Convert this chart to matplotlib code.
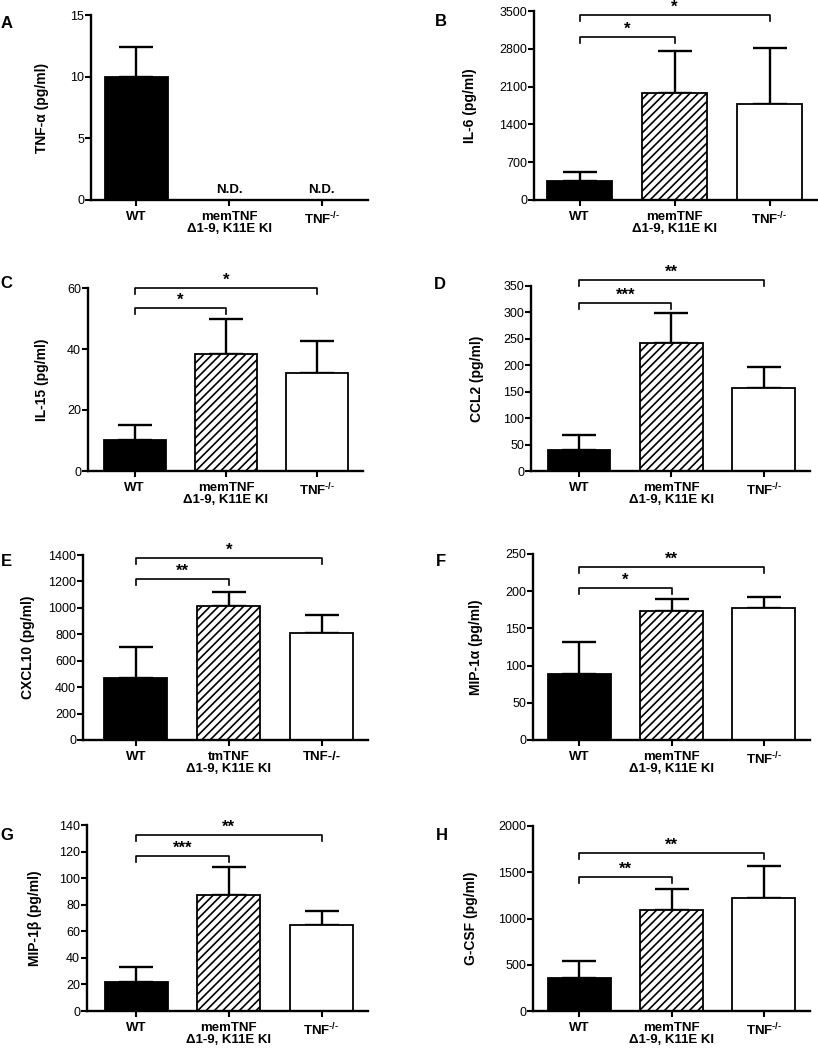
import numpy as np
import matplotlib
matplotlib.use('Agg')
import matplotlib.pyplot as plt

# ---------------- data ----------------
groups = ['WT', 'memTNF\nΔ1-9, K11E KI', 'TNF$^{\\mathbf{‐/‐}}$']
groups_e = ['WT', 'tmTNF\nΔ1-9, K11E KI', 'TNF-/-']

tnfa_mean = [10.0, 0.0, 0.0]
tnfa_sem = [2.4, 0.0, 0.0]
tnfa_nd = [False, True, True]

il6_mean = [357, 1990, 1775]
il6_sem = [167, 770, 1035]
il6_sig = ['*', '*']

il15_mean = [10.1, 38.4, 32.0]
il15_sem = [5.1, 11.6, 10.7]
il15_sig = ['*', '*']

ccl2_mean = [40.4, 243, 157]
ccl2_sem = [28.5, 55, 39]
ccl2_sig = ['***', '**']

cxcl10_mean = [472, 1017, 810]
cxcl10_sem = [229, 101, 134]
cxcl10_sig = ['**', '*']

mip1a_mean = [88.9, 174, 178]
mip1a_sem = [43, 15, 14]
mip1a_sig = ['*', '**']

mip1b_mean = [21.9, 87.2, 64.8]
mip1b_sem = [11.5, 21.1, 10.3]
mip1b_sig = ['***', '**']

gcsf_mean = [361, 1090, 1224]
gcsf_sem = [184, 231, 343]
gcsf_sig = ['**', '**']

# ---------------- style ----------------
plt.rcParams['font.family'] = ['Liberation Sans', 'DejaVu Sans']
plt.rcParams['mathtext.fontset'] = 'custom'
plt.rcParams['mathtext.rm'] = 'Liberation Sans'
plt.rcParams['mathtext.bf'] = 'Liberation Sans:bold'
plt.rcParams['hatch.linewidth'] = 1.2

W, H = 818, 1050
FILLS = ['black', 'white', 'white']
HATCHES = ['', '////', '']


def rect(l, r, t, b):
    return [l / W, 1 - b / H, (r - l) / W, (b - t) / H]


# panel: letter, ylabel, mean, sem, sig, ymax, ystep, axes px box, xlim-left,
#        ylabel x (axes frac), bracket levels (short, long), x labels, letter pos (px)
panels = [
    ('A', 'TNF-α (pg/ml)', tnfa_mean, tnfa_sem, None, 15, 5, (91, 368, 15, 200), -0.49, -0.15, None, groups, (7, 23)),
    ('B', 'IL-6 (pg/ml)', il6_mean, il6_sem, il6_sig, 3500, 700, (534, 817, 11, 200), -0.48, -0.20, (3019, 3420), groups, (441, 21)),
    ('C', 'IL-15 (pg/ml)', il15_mean, il15_sem, il15_sig, 60, 20, (88, 363, 288, 471), -0.51, -0.14, (53.4, 60.0), groups, (6, 283)),
    ('D', 'CCL2 (pg/ml)', ccl2_mean, ccl2_sem, ccl2_sig, 350, 50, (531, 810, 286, 471), -0.52, -0.17, (318, 361), groups, (440, 284)),
    ('E', 'CXCL10 (pg/ml)', cxcl10_mean, cxcl10_sem, cxcl10_sig, 1400, 200, (83, 368, 555, 740), -0.57, -0.17, (1216, 1375), groups_e, (6, 562)),
    ('F', 'MIP-1α (pg/ml)', mip1a_mean, mip1a_sem, mip1a_sig, 250, 50, (533, 810, 554, 740), -0.50, -0.18, (204, 232.5), groups, (441, 562)),
    ('G', 'MIP-1β (pg/ml)', mip1b_mean, mip1b_sem, mip1b_sig, 140, 20, (87, 368, 825, 1011), -0.53, -0.16, (116.4, 132.4), groups, (7, 835)),
    ('H', 'G-CSF (pg/ml)', gcsf_mean, gcsf_sem, gcsf_sig, 2000, 500, (533, 810, 826, 1011), -0.50, -0.20, (1444, 1704), groups, (442, 835)),
]

fig = plt.figure(figsize=(W / 100, H / 100), dpi=100)

for letter, ylab, mean, sem, sig, ymax, ystep, box, xl, labx, levels, xlabels, lpos in panels:
    ax = fig.add_axes(rect(*box))
    x = np.arange(3)
    bars = ax.bar(x, mean, width=0.68, color=FILLS, edgecolor='black',
                  linewidth=1.3, zorder=2)
    for b, h in zip(bars, HATCHES):
        b.set_hatch(h)

    mask = np.array(sem) > 0
    ax.errorbar(x[mask], np.array(mean)[mask],
                yerr=[np.zeros(mask.sum()), np.array(sem)[mask]],
                fmt='none', ecolor='black', elinewidth=1.7, capsize=12,
                capthick=1.7, zorder=1)

    if letter == 'A':
        for xi, nd in zip(x, tnfa_nd):
            if nd:
                ax.annotate('N.D.', (xi, 0), xytext=(0, 3), textcoords='offset points',
                            ha='center', va='bottom', fontsize=9.5, fontweight='bold')

    # significance brackets
    if sig is not None:
        drop = ymax * 0.032
        for (x2, lvl, s) in zip([1, 2], levels, sig):
            ax.plot([0, 0, x2, x2], [lvl - drop, lvl, lvl, lvl - drop],
                    color='black', lw=1.2, clip_on=False, zorder=3)
            ax.text(x2 / 2, lvl + ymax * 0.003, s, ha='center', va='bottom',
                    fontsize=12, fontweight='bold', clip_on=False)

    ax.set_xlim(xl, 2.5)
    ax.set_ylim(0, ymax)
    ax.set_yticks(np.arange(0, ymax + ystep / 2, ystep))
    ax.set_xticks(x)
    ax.set_xticklabels(xlabels, fontsize=9.5, fontweight='bold', linespacing=0.95)
    ax.tick_params(axis='y', direction='out', length=4, width=1.5, labelsize=9, pad=1)
    ax.tick_params(axis='x', direction='out', length=4, width=1.5, pad=4)
    for sp in ['top', 'right']:
        ax.spines[sp].set_visible(False)
    for sp in ['left', 'bottom']:
        ax.spines[sp].set_linewidth(1.7)

    ax.set_ylabel(ylab, fontsize=10, fontweight='bold')
    ax.yaxis.set_label_coords(labx, 0.5)

    fig.text(lpos[0] / W, 1 - lpos[1] / H, letter, ha='center', va='center',
             fontsize=12, fontweight='bold')

fig.savefig('out.png', dpi=100)
